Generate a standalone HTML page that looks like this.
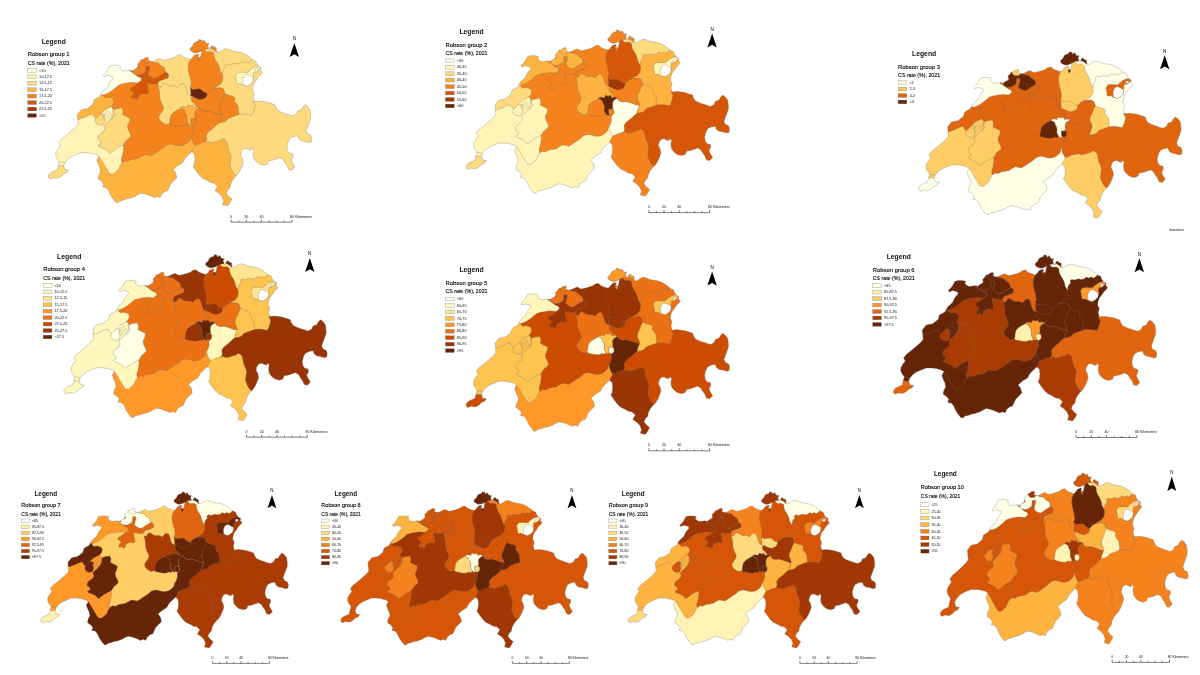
<!DOCTYPE html>
<html><head><meta charset="utf-8"><title>Robson groups CS rate maps</title>
<style>html,body{margin:0;padding:0;background:#fff}svg{display:block;position:absolute;left:0;top:0}text{font-family:"Liberation Sans",Arial,sans-serif}</style></head>
<body><svg width="1200" height="675" viewBox="0 0 1200 675">
<defs><mask id="ch" maskUnits="userSpaceOnUse" x="-20" y="-20" width="320" height="220"><path d="M-0.2,138.4L-0.2,135.9L1.9,133.4L5.0,131.9L8.5,130.7L9.4,126.5L10.6,122.4L8.1,119.0L6.9,116.2L7.2,112.8L9.0,109.7L11.5,106.5L9.8,103.4L12.5,99.9L18.1,95.5L23.1,91.2L26.9,87.8L29.4,84.7L28.5,75.4L32.5,70.4L38.8,69.2L44.4,64.8L45.6,60.4L51.2,57.3L53.8,52.3L58.8,47.9L61.2,42.9L64.4,39.2L63.8,37.3L58.8,36.0L55.6,37.3L54.4,36.0L57.5,32.9L58.8,31.0L61.2,26.7L64.4,26.0L68.8,26.0L71.9,26.7L71.2,29.2L74.4,31.7L77.5,31.7L81.2,31.0L83.8,31.7L85.6,30.4L88.8,28.5L89.4,26.7L88.8,24.8L91.2,22.3L92.5,20.4L95.0,19.8L96.2,18.5L99.4,17.9L100.0,19.8L98.8,21.0L102.5,22.3L105.0,21.7L108.8,19.8L111.2,19.2L114.4,21.0L118.1,20.4L122.5,19.2L126.2,17.9L128.8,16.0L131.9,15.4L133.8,17.3L136.2,18.5L140.0,19.8L140.0,19.8L141.8,20.2L144.0,18.2L144.8,16.7L146.0,15.7L147.5,15.2L148.5,14.7L150.0,15.2L149.2,16.7L149.0,18.2L150.2,17.7L151.5,18.2L152.0,16.7L152.5,14.2L153.0,11.4L151.5,12.4L150.0,12.9L148.5,13.4L146.5,13.7L145.0,13.2L143.5,12.4L142.2,11.7L141.5,10.7L141.2,9.4L142.2,8.2L144.0,6.7L144.8,4.5L146.0,3.3L148.0,2.5L149.8,1.8L150.0,0.3L151.5,0.5L153.0,1.0L153.8,2.8L155.0,1.0L156.1,1.8L156.9,3.5L158.4,4.3L160.1,4.0L159.6,5.5L158.9,6.9L159.9,7.9L159.6,9.7L161.6,9.7L161.9,7.7L163.1,6.4L164.4,6.7L165.1,7.9L166.9,8.2L167.9,9.4L167.4,10.7L168.1,12.4L169.2,13.2L171.2,12.4L173.8,10.7L176.2,9.4L178.8,9.9L181.2,10.7L184.2,11.9L187.4,12.4L191.2,12.9L196.2,14.8L200.0,17.3L202.5,19.2L204.4,21.0L206.9,21.7L208.1,24.8L210.0,27.3L212.5,28.5L211.9,31.0L213.8,32.9L212.5,34.8L210.0,37.3L208.1,40.4L205.6,43.5L204.4,46.7L203.8,50.4L205.6,54.2L204.4,57.9L205.6,62.3L210.0,61.7L215.0,62.3L218.8,62.9L222.5,64.2L226.2,65.4L226.9,67.9L228.8,71.0L232.5,72.9L236.2,74.2L240.0,75.4L243.8,76.7L247.5,74.8L248.8,71.7L252.5,70.4L253.8,67.9L256.2,65.4L258.8,67.3L261.2,70.4L261.9,75.4L261.9,79.4L260.0,84.7L258.8,87.8L257.5,91.5L258.8,94.7L261.9,95.9L263.1,99.0L262.5,102.8L260.0,103.4L256.2,102.2L252.5,101.5L250.0,99.7L248.8,96.5L245.0,97.2L241.2,99.0L239.4,102.2L238.1,107.2L238.8,111.5L240.6,114.0L243.8,114.7L244.4,117.2L242.5,120.9L243.8,124.0L246.2,127.8L243.1,130.9L240.0,130.3L238.1,125.9L236.2,123.4L234.4,120.3L231.2,118.4L227.5,119.7L223.8,120.9L220.0,121.5L218.8,124.7L215.0,125.9L210.6,124.7L207.5,122.2L205.0,119.0L204.4,114.7L205.0,110.3L203.1,109.0L202.5,110.9L200.0,110.3L197.5,109.0L194.4,109.7L192.5,112.8L191.9,115.9L193.8,119.7L194.4,123.4L193.1,127.2L191.2,131.5L188.8,135.3L186.2,137.8L183.8,140.9L181.9,144.7L181.2,148.4L178.8,150.9L177.5,154.0L180.0,157.2L183.1,159.7L181.2,163.4L178.8,166.5L173.8,165.3L175.0,161.5L173.1,157.2L170.0,154.0L166.2,151.5L168.8,147.2L165.6,144.0L161.9,143.4L158.8,141.5L153.8,139.0L150.6,135.9L146.9,130.9L144.4,127.2L145.6,124.7L146.2,119.7L145.6,114.7L143.1,112.4L141.2,114.0L136.2,119.0L133.8,123.4L128.8,126.5L124.4,130.3L126.9,133.4L128.1,138.4L121.9,144.7L118.8,151.5L116.2,152.2L113.1,154.7L111.2,158.4L108.8,157.2L105.6,158.4L103.1,157.2L100.0,155.9L96.2,154.7L92.5,154.0L89.4,155.3L86.2,157.2L81.2,159.0L77.5,159.7L74.4,160.9L71.2,161.5L70.0,162.8L67.5,163.4L64.4,159.7L61.9,155.9L60.0,151.5L57.5,148.4L54.0,147.8L55.0,144.7L53.1,142.2L49.4,139.7L50.0,135.9L51.9,132.2L51.2,128.4L49.4,124.7L48.1,120.9L50.2,116.9L47.5,115.3L42.5,114.0L37.5,113.4L32.5,113.4L27.5,115.3L23.1,117.2L19.4,119.7L16.2,123.4L15.0,126.5L16.2,130.3L20.0,130.9L18.1,133.4L15.0,134.7L12.5,137.2L8.8,139.0L5.0,138.4L1.2,139.7Z" fill="#fff"/></mask><path id="ol" d="M-0.2,138.4L-0.2,135.9L1.9,133.4L5.0,131.9L8.5,130.7L9.4,126.5L10.6,122.4L8.1,119.0L6.9,116.2L7.2,112.8L9.0,109.7L11.5,106.5L9.8,103.4L12.5,99.9L18.1,95.5L23.1,91.2L26.9,87.8L29.4,84.7L28.5,75.4L32.5,70.4L38.8,69.2L44.4,64.8L45.6,60.4L51.2,57.3L53.8,52.3L58.8,47.9L61.2,42.9L64.4,39.2L63.8,37.3L58.8,36.0L55.6,37.3L54.4,36.0L57.5,32.9L58.8,31.0L61.2,26.7L64.4,26.0L68.8,26.0L71.9,26.7L71.2,29.2L74.4,31.7L77.5,31.7L81.2,31.0L83.8,31.7L85.6,30.4L88.8,28.5L89.4,26.7L88.8,24.8L91.2,22.3L92.5,20.4L95.0,19.8L96.2,18.5L99.4,17.9L100.0,19.8L98.8,21.0L102.5,22.3L105.0,21.7L108.8,19.8L111.2,19.2L114.4,21.0L118.1,20.4L122.5,19.2L126.2,17.9L128.8,16.0L131.9,15.4L133.8,17.3L136.2,18.5L140.0,19.8L140.0,19.8L141.8,20.2L144.0,18.2L144.8,16.7L146.0,15.7L147.5,15.2L148.5,14.7L150.0,15.2L149.2,16.7L149.0,18.2L150.2,17.7L151.5,18.2L152.0,16.7L152.5,14.2L153.0,11.4L151.5,12.4L150.0,12.9L148.5,13.4L146.5,13.7L145.0,13.2L143.5,12.4L142.2,11.7L141.5,10.7L141.2,9.4L142.2,8.2L144.0,6.7L144.8,4.5L146.0,3.3L148.0,2.5L149.8,1.8L150.0,0.3L151.5,0.5L153.0,1.0L153.8,2.8L155.0,1.0L156.1,1.8L156.9,3.5L158.4,4.3L160.1,4.0L159.6,5.5L158.9,6.9L159.9,7.9L159.6,9.7L161.6,9.7L161.9,7.7L163.1,6.4L164.4,6.7L165.1,7.9L166.9,8.2L167.9,9.4L167.4,10.7L168.1,12.4L169.2,13.2L171.2,12.4L173.8,10.7L176.2,9.4L178.8,9.9L181.2,10.7L184.2,11.9L187.4,12.4L191.2,12.9L196.2,14.8L200.0,17.3L202.5,19.2L204.4,21.0L206.9,21.7L208.1,24.8L210.0,27.3L212.5,28.5L211.9,31.0L213.8,32.9L212.5,34.8L210.0,37.3L208.1,40.4L205.6,43.5L204.4,46.7L203.8,50.4L205.6,54.2L204.4,57.9L205.6,62.3L210.0,61.7L215.0,62.3L218.8,62.9L222.5,64.2L226.2,65.4L226.9,67.9L228.8,71.0L232.5,72.9L236.2,74.2L240.0,75.4L243.8,76.7L247.5,74.8L248.8,71.7L252.5,70.4L253.8,67.9L256.2,65.4L258.8,67.3L261.2,70.4L261.9,75.4L261.9,79.4L260.0,84.7L258.8,87.8L257.5,91.5L258.8,94.7L261.9,95.9L263.1,99.0L262.5,102.8L260.0,103.4L256.2,102.2L252.5,101.5L250.0,99.7L248.8,96.5L245.0,97.2L241.2,99.0L239.4,102.2L238.1,107.2L238.8,111.5L240.6,114.0L243.8,114.7L244.4,117.2L242.5,120.9L243.8,124.0L246.2,127.8L243.1,130.9L240.0,130.3L238.1,125.9L236.2,123.4L234.4,120.3L231.2,118.4L227.5,119.7L223.8,120.9L220.0,121.5L218.8,124.7L215.0,125.9L210.6,124.7L207.5,122.2L205.0,119.0L204.4,114.7L205.0,110.3L203.1,109.0L202.5,110.9L200.0,110.3L197.5,109.0L194.4,109.7L192.5,112.8L191.9,115.9L193.8,119.7L194.4,123.4L193.1,127.2L191.2,131.5L188.8,135.3L186.2,137.8L183.8,140.9L181.9,144.7L181.2,148.4L178.8,150.9L177.5,154.0L180.0,157.2L183.1,159.7L181.2,163.4L178.8,166.5L173.8,165.3L175.0,161.5L173.1,157.2L170.0,154.0L166.2,151.5L168.8,147.2L165.6,144.0L161.9,143.4L158.8,141.5L153.8,139.0L150.6,135.9L146.9,130.9L144.4,127.2L145.6,124.7L146.2,119.7L145.6,114.7L143.1,112.4L141.2,114.0L136.2,119.0L133.8,123.4L128.8,126.5L124.4,130.3L126.9,133.4L128.1,138.4L121.9,144.7L118.8,151.5L116.2,152.2L113.1,154.7L111.2,158.4L108.8,157.2L105.6,158.4L103.1,157.2L100.0,155.9L96.2,154.7L92.5,154.0L89.4,155.3L86.2,157.2L81.2,159.0L77.5,159.7L74.4,160.9L71.2,161.5L70.0,162.8L67.5,163.4L64.4,159.7L61.9,155.9L60.0,151.5L57.5,148.4L54.0,147.8L55.0,144.7L53.1,142.2L49.4,139.7L50.0,135.9L51.9,132.2L51.2,128.4L49.4,124.7L48.1,120.9L50.2,116.9L47.5,115.3L42.5,114.0L37.5,113.4L32.5,113.4L27.5,115.3L23.1,117.2L19.4,119.7L16.2,123.4L15.0,126.5L16.2,130.3L20.0,130.9L18.1,133.4L15.0,134.7L12.5,137.2L8.8,139.0L5.0,138.4L1.2,139.7Z"/><path id="BE" d="M-13.8,-14.6L276.2,-14.6L276.2,175.4L-13.8,175.4Z"/><path id="GR" d="M165.0,84.2L175.0,80.4L183.8,75.4L196.2,72.9L201.2,72.9L203.8,62.9L206.2,59.2L308.8,59.2L308.8,137.9L191.2,170.9L176.2,133.4L172.5,114.7L166.2,107.2L156.2,105.3L155.0,95.4L158.8,90.4Z"/><path id="VS" d="M73.1,123.4L76.2,121.5L78.8,122.2L82.5,120.3L86.2,119.7L90.0,119.0L92.5,117.2L96.2,115.3L100.0,115.9L102.5,116.5L106.2,114.0L110.0,111.5L113.8,109.0L117.5,105.9L121.2,104.7L125.0,105.3L128.8,106.5L132.5,106.5L136.2,105.3L138.8,103.4L141.2,100.9L141.9,97.2L150.0,95.9L150.0,120.9L150.0,170.9L43.8,170.9L43.8,117.2L50.2,116.2Z"/><path id="VD" d="M50.2,116.9L51.9,119.7L53.8,122.8L55.6,125.9L57.5,129.0L59.4,132.2L61.2,134.7L64.4,134.7L67.5,132.2L70.0,129.7L71.2,126.5L73.1,123.4L72.5,119.7L73.8,115.9L74.4,112.2L75.0,108.4L74.4,105.9L71.2,95.4L68.8,82.9L65.0,70.4L62.5,67.3L56.2,64.2L43.8,57.9L18.8,70.4L2.5,95.9L2.5,124.7L10.0,130.9L17.5,128.4L21.2,125.9L33.8,119.7L46.2,117.8Z"/><path id="FR" d="M65.0,70.4L68.8,69.2L73.1,68.5L74.4,71.7L73.8,75.4L77.5,77.3L81.2,79.2L80.6,82.9L78.8,86.7L79.4,90.4L81.2,93.5L82.2,96.7L80.0,99.2L77.5,101.0L75.6,104.2L74.4,105.9L71.2,107.3L67.5,109.2L64.4,111.7L60.9,114.2L58.8,111.7L56.2,109.8L53.1,108.5L50.6,107.9L49.4,106.0L52.5,104.2L51.2,101.7L48.8,99.8L49.4,96.7L51.2,94.8L54.4,92.9L56.2,89.8L55.0,87.3L56.2,84.8L58.8,82.9L61.2,80.4L63.1,77.9L64.4,74.8ZM47.5,78.2L49.4,76.0L53.1,74.4L56.0,75.2L55.2,78.2L55.8,82.2L54.6,85.5L51.4,86.2L48.0,84.9L46.2,81.5Z"/><path id="NE" d="M53.8,54.8L54.4,56.7L56.2,58.5L60.0,57.9L63.8,59.2L65.2,61.7L64.4,64.8L62.5,67.3L60.0,68.5L56.2,70.4L53.1,73.5L50.0,76.7L47.5,79.2L45.0,77.3L43.8,74.8L40.0,76.0L36.2,77.9L32.5,79.2L29.4,80.4L25.0,80.4L25.0,70.4L43.8,55.4L53.1,52.3Z"/><path id="JU" d="M81.0,31.4L83.1,32.8L86.2,35.2L89.4,37.3L92.5,38.5L92.8,41.0L89.4,43.5L83.8,42.9L78.8,43.5L73.8,44.4L70.0,45.7L67.5,47.9L64.4,50.4L61.2,52.7L58.1,54.4L54.4,55.7L50.0,54.2L50.0,22.9L81.0,22.9Z"/><path id="SO" d="M86.5,35.2L89.4,35.7L91.9,35.4L95.0,33.8L96.9,32.3L97.2,27.9L97.8,26.7L100.6,26.7L101.0,29.2L100.0,32.3L99.4,35.4L101.2,37.3L103.8,38.5L106.2,39.2L108.8,37.9L111.2,36.0L114.4,34.2L116.9,32.9L119.4,34.2L120.0,36.0L119.4,38.5L116.2,39.8L113.1,41.0L110.6,41.7L109.4,43.5L107.5,44.8L103.8,44.8L100.6,44.2L98.1,43.5L98.8,46.7L99.4,50.4L100.0,53.5L98.1,54.8L95.0,54.2L92.5,54.8L90.0,56.7L89.4,59.2L87.5,60.4L85.6,58.5L83.8,59.8L82.5,57.9L83.8,55.4L85.6,54.2L83.8,52.3L81.2,50.4L82.5,48.5L85.0,47.3L87.5,45.4L90.0,43.5L92.5,42.3L92.8,40.4L92.5,38.5L89.4,37.3Z"/><path id="BL" d="M81.0,31.4L81.0,26.7L88.8,20.4L92.5,16.7L102.5,16.7L103.1,22.3L106.2,23.2L109.4,23.5L111.0,25.4L113.8,27.3L116.0,28.9L116.9,32.7L114.4,34.2L111.2,36.0L108.8,37.9L106.2,39.2L103.8,38.5L101.2,37.3L99.4,35.4L100.0,32.3L101.0,29.2L100.6,26.7L97.8,26.7L97.2,27.9L96.9,32.3L95.0,33.8L91.9,35.4L89.4,35.7L86.5,35.2L83.1,32.8Z"/><path id="BS" d="M92.8,20.4L92.8,16.7L102.2,16.7L102.2,22.2L100.6,22.4L100.0,23.9L96.2,24.2L93.8,22.9Z"/><path id="SOx" d="M82.8,31.0L84.8,30.8L85.0,32.4L83.2,32.7ZM86.2,26.9L89.4,26.2L90.2,28.2L88.1,29.4L86.5,28.9Z"/><path id="AG" d="M103.1,22.3L103.1,14.2L133.8,11.7L141.2,14.2L141.2,16.7L145.0,21.7L145.0,47.9L145.0,54.2L141.2,60.4L123.8,54.2L111.2,49.2L109.4,47.7L109.4,43.5L110.6,41.7L113.1,41.0L116.2,39.8L119.4,38.5L120.0,36.0L119.4,34.2L116.9,32.7L116.0,28.9L113.8,27.3L111.0,25.4L109.4,23.5L106.2,23.2Z"/><path id="LU" d="M109.4,47.7L111.9,47.5L114.4,43.9L115.8,43.8L118.9,45.8L120.9,46.8L125.9,46.8L128.9,48.3L130.6,46.0L132.9,44.3L135.6,45.0L137.0,48.8L138.0,52.3L139.0,54.9L140.5,56.4L142.0,56.9L145.0,56.7L151.2,62.9L153.8,69.2L142.5,72.9L130.0,79.2L123.8,81.7L120.6,84.4L116.9,85.2L113.1,82.9L110.6,80.4L110.0,77.3L111.9,74.2L113.8,71.7L114.8,68.5L113.5,65.4L112.1,62.3L111.2,59.2L111.0,55.4L110.6,51.7Z"/><path id="ZH" d="M141.8,20.2L140.6,22.3L139.4,25.4L139.4,30.4L140.6,35.4L141.9,40.4L142.5,45.4L141.2,47.9L146.2,52.9L161.2,54.2L176.2,50.4L178.8,37.9L175.0,26.7L170.0,16.7L168.8,11.7L163.8,7.9L157.5,6.7L151.2,10.4L141.2,15.4Z"/><path id="SG" d="M173.8,35.7L174.2,39.2L173.1,42.9L170.6,46.0L166.9,47.9L165.0,49.2L171.2,48.5L174.4,49.8L176.2,54.2L181.2,65.4L186.2,75.4L190.2,75.2L195.0,74.8L198.8,75.2L203.1,76.0L204.6,72.9L205.9,69.2L206.5,65.7L204.4,62.3L216.2,57.9L216.2,19.8L203.8,18.8L202.5,20.7L200.0,22.5L197.5,21.3L195.0,22.5L192.5,21.3L190.6,23.2L187.5,23.8L184.4,23.2L181.2,24.4L178.1,23.8L175.2,25.4L175.8,28.2L174.0,30.4L173.1,32.9Z"/><path id="TG" d="M173.8,35.7L171.4,31.7L170.8,28.4L169.1,24.4L166.8,21.0L165.5,17.7L165.1,14.2L163.8,12.9L161.8,12.4L158.5,12.7L156.5,11.0L156.2,9.7L156.2,6.7L168.8,5.4L191.2,7.9L206.2,17.9L203.8,19.8L202.5,21.7L200.0,23.5L197.5,22.3L195.0,23.5L192.5,22.3L190.6,24.2L187.5,24.8L184.4,24.2L181.2,25.4L178.1,24.8L176.2,26.0L176.9,28.5L175.0,30.4L174.0,32.9Z"/><path id="SH" d="M153.0,11.4L151.5,12.4L150.0,12.9L148.5,13.4L146.5,13.7L145.0,13.2L143.5,12.4L142.2,11.7L141.5,10.7L141.2,9.4L142.2,8.2L144.0,6.7L144.8,4.5L146.0,3.3L148.0,2.5L149.8,1.8L150.0,0.3L151.5,0.5L153.0,1.0L153.8,2.8L155.0,1.0L156.1,1.8L156.9,3.5L158.4,4.3L160.1,4.0L159.6,5.5L158.9,6.9L159.9,7.9L159.6,9.7L156.2,9.7L154.8,10.7ZM161.6,9.7L161.9,7.7L163.1,6.4L164.4,6.7L165.1,7.9L166.9,8.2L167.9,9.4L167.4,10.7L168.1,12.4L167.4,12.9L166.4,11.7L165.1,10.7L163.9,10.2L162.9,9.2ZM149.0,18.2L150.2,17.7L151.5,18.2L151.2,20.2L150.2,21.7L149.2,20.4Z"/><path id="AR" d="M189.1,33.2L192.9,33.0L197.0,33.2L199.4,32.9L200.4,31.2L202.4,30.2L203.8,28.8L206.2,27.7L209.4,27.0L211.2,28.2L212.0,29.2L210.9,30.4L208.5,32.5L206.5,33.2L205.1,32.9L204.8,34.5L204.6,37.9L204.5,40.3L203.8,43.0L201.4,45.2L198.6,46.8L196.2,46.3L194.2,45.8L191.5,44.3L189.1,44.7L187.6,43.4L188.2,41.7L187.2,40.3L187.6,38.7L186.6,36.9L188.2,34.2Z"/><path id="AI" d="M193.9,40.3L195.2,37.3L197.0,35.3L199.8,35.5L202.4,37.2L204.6,37.9L204.5,40.3L203.8,43.0L201.4,45.2L198.6,46.8L196.2,46.3L194.2,44.8ZM206.5,30.0L208.4,29.2L209.8,30.0L208.9,31.9L206.9,32.2Z"/><path id="TI" d="M143.1,112.4L143.8,110.9L145.0,108.4L146.2,106.0L147.5,102.2L155.6,99.7L155.6,102.9L158.8,102.2L162.5,103.4L165.6,102.8L168.8,101.5L171.9,100.9L173.8,99.0L176.2,100.3L178.1,102.2L178.8,105.9L179.4,109.7L181.2,113.4L182.5,117.2L181.9,120.9L181.2,125.9L182.5,129.7L184.4,133.4L186.9,136.5L191.2,139.7L191.2,170.9L135.0,170.9L138.8,124.7Z"/><path id="UR" d="M142.5,97.3L144.0,94.2L145.0,90.4L144.8,87.3L146.0,85.4L147.5,83.5L147.2,80.2L146.2,78.5L146.0,75.4L146.0,72.9L147.5,70.4L151.2,68.2L152.5,71.0L156.2,72.3L160.0,71.7L163.8,72.9L167.5,74.2L170.0,75.2L173.1,75.4L172.5,77.3L171.2,80.4L170.6,83.5L168.1,85.4L165.6,87.9L162.5,90.4L159.4,92.9L157.5,96.0L158.1,99.2L157.5,101.7L155.6,102.9L152.5,103.5L148.8,105.4L146.2,106.0L144.4,103.5L143.1,100.4Z"/><path id="GL" d="M176.2,54.2L180.0,56.0L183.8,56.7L186.2,58.5L185.6,61.7L187.5,64.2L189.4,66.7L190.0,71.7L190.2,75.2L186.2,76.7L182.5,77.9L179.4,79.2L177.5,81.7L174.4,82.9L170.6,83.5L171.2,80.4L172.5,77.3L173.1,75.4L171.2,71.7L170.0,64.2L172.5,55.4Z"/><path id="SZ" d="M142.2,58.9L148.8,54.2L158.6,54.2L161.2,51.0L165.0,49.2L171.2,48.5L174.4,49.8L176.2,54.2L174.4,57.9L173.1,61.7L171.2,65.4L170.6,69.2L172.5,72.3L173.1,75.4L170.0,75.2L167.5,74.2L163.8,72.9L160.0,71.7L156.2,72.3L152.5,71.0L151.2,68.2L147.8,67.4L146.2,65.4L145.0,63.5L143.1,62.3Z"/><path id="ZG" d="M141.5,48.8L144.0,50.2L147.0,49.9L150.0,49.5L152.6,50.3L154.6,52.5L158.1,54.0L158.6,55.3L157.1,58.3L154.1,59.8L151.1,60.3L148.0,59.3L146.0,58.3L144.0,57.3L142.0,56.7L142.0,52.8Z"/><path id="OW" d="M131.9,68.9L133.1,69.4L135.6,70.7L136.2,72.9L137.5,75.2L138.0,77.9L137.8,81.0L139.4,84.4L138.8,86.2L135.6,85.7L132.5,86.9L128.8,86.7L125.0,86.0L122.5,85.4L120.6,84.4L121.2,81.7L121.5,78.5L122.5,75.4L125.0,72.9L128.1,71.0ZM142.2,79.4L145.0,79.2L147.2,80.2L147.5,83.5L146.0,85.4L143.8,85.7L142.1,83.5Z"/><path id="NW" d="M131.9,68.2L135.0,67.3L137.5,68.2L139.4,65.4L141.9,66.7L143.8,65.4L145.6,68.2L147.8,67.4L151.2,68.2L147.5,70.4L146.0,72.9L146.0,75.4L146.2,78.5L145.0,79.2L142.2,79.4L142.1,83.5L143.1,85.4L141.2,85.9L139.4,84.4L137.8,81.0L138.0,77.9L137.5,75.2L136.2,72.9L135.6,70.7L133.1,69.4Z"/><path id="GE" d="M9.4,126.5L15.0,126.5L21.2,126.5L21.2,142.2L-2.5,142.2L-2.5,130.9L7.5,125.9Z"/><path id="ln" fill="none" d="M58.1,70.9L63.2,76.9M56.4,72.7L61.5,78.8M54.6,74.4L59.4,80.0M53.4,75.7L57.6,81.5M63.8,70.4L64.2,72.9L66.2,75.2L62.8,80.5M10.2,122.4L16.0,123.7"/></defs>
<g transform="translate(48.75,39.25) scale(1.0,1.0)">
<g mask="url(#ch)" stroke="#6e6e6e" stroke-width="0.32" stroke-linejoin="round">
<use href="#BE" fill="#f4821d"/>
<use href="#GR" fill="#feda7e"/>
<use href="#VS" fill="#feb23f"/>
<use href="#VD" fill="#fff4b6"/>
<use href="#FR" fill="#feda7e"/>
<use href="#NE" fill="#feb23f"/>
<use href="#JU" fill="#ffffe5"/>
<use href="#SO" fill="#d55607"/>
<use href="#BL" fill="#f4821d"/>
<use href="#BS" fill="#f4821d"/>
<use href="#SOx" fill="#d55607"/>
<use href="#AG" fill="#feda7e"/>
<use href="#LU" fill="#feda7e"/>
<use href="#ZH" fill="#f4821d"/>
<use href="#SG" fill="#feda7e"/>
<use href="#TG" fill="#feda7e"/>
<use href="#SH" fill="#f4821d"/>
<use href="#AR" fill="#fff4b6"/>
<use href="#AI" fill="#ffffff"/>
<use href="#TI" fill="#feb23f"/>
<use href="#UR" fill="#f4821d"/>
<use href="#GL" fill="#f4821d"/>
<use href="#SZ" fill="#f4821d"/>
<use href="#ZG" fill="#662506"/>
<use href="#OW" fill="#f4821d"/>
<use href="#NW" fill="#feb23f"/>
<use href="#GE" fill="#feda7e"/>
<use href="#ln"/>
</g>
<use href="#ol" fill="none" stroke="#6e6e6e" stroke-width="0.32"/>
<path d="M245.6,3.7L250.3,17.7L245.6,15L240.9,17.7Z" fill="#000"/>
<text x="245.6" y="1.0" font-size="4.7" text-anchor="middle" fill="#000">N</text>
<path d="M182.3,180.3V182.9H243.10000000000002V180.3M189.90,182.9v-1.5M197.50,182.9v-2.6M205.10,182.9v-1.5M212.70,182.9v-2.6M220.30,182.9v-1.5M227.90,182.9v-1.5M235.50,182.9v-1.5" fill="none" stroke="#000" stroke-width="0.5"/>
<text x="182.30" y="178.3" font-size="3.6" text-anchor="middle" fill="#111">0</text>
<text x="197.50" y="178.3" font-size="3.6" text-anchor="middle" fill="#111">20</text>
<text x="212.70" y="178.3" font-size="3.6" text-anchor="middle" fill="#111">40</text>
<text x="241.3" y="178.3" font-size="3.6" fill="#111">80 Kilometers</text>
<text x="5.00" y="4.4" font-size="7.4" font-weight="bold" text-anchor="middle" textLength="24.2" lengthAdjust="spacingAndGlyphs" fill="#111">Legend</text>
<text x="-21.00" y="17.0" font-size="6" textLength="41.8" lengthAdjust="spacingAndGlyphs" fill="#000" stroke="#000" stroke-width="0.12">Robson group 1</text>
<text x="-21.00" y="25.6" font-size="6" textLength="42" lengthAdjust="spacingAndGlyphs" fill="#000" stroke="#000" stroke-width="0.12">CS rate (%), 2021</text>
<rect x="-21.00" y="29.25" width="8.7" height="3.7" fill="#ffffe5" stroke="#6e6e6e" stroke-width="0.3"/>
<text x="-9.70" y="32.30" font-size="3.8" fill="#111"><10</text>
<rect x="-21.00" y="35.70" width="8.7" height="3.7" fill="#fff4b6" stroke="#6e6e6e" stroke-width="0.3"/>
<text x="-9.70" y="38.75" font-size="3.8" fill="#111">10-12.5</text>
<rect x="-21.00" y="42.15" width="8.7" height="3.7" fill="#feda7e" stroke="#6e6e6e" stroke-width="0.3"/>
<text x="-9.70" y="45.20" font-size="3.8" fill="#111">12.5-15</text>
<rect x="-21.00" y="48.60" width="8.7" height="3.7" fill="#feb23f" stroke="#6e6e6e" stroke-width="0.3"/>
<text x="-9.70" y="51.65" font-size="3.8" fill="#111">15-17.5</text>
<rect x="-21.00" y="55.05" width="8.7" height="3.7" fill="#f4821d" stroke="#6e6e6e" stroke-width="0.3"/>
<text x="-9.70" y="58.10" font-size="3.8" fill="#111">17.5-20</text>
<rect x="-21.00" y="61.50" width="8.7" height="3.7" fill="#d55607" stroke="#6e6e6e" stroke-width="0.3"/>
<text x="-9.70" y="64.55" font-size="3.8" fill="#111">20-22.5</text>
<rect x="-21.00" y="67.95" width="8.7" height="3.7" fill="#a03704" stroke="#6e6e6e" stroke-width="0.3"/>
<text x="-9.70" y="71.00" font-size="3.8" fill="#111">22.5-25</text>
<rect x="-21.00" y="74.40" width="8.7" height="3.7" fill="#662506" stroke="#6e6e6e" stroke-width="0.3"/>
<text x="-9.70" y="77.45" font-size="3.8" fill="#111">>25</text>
</g>
<g transform="translate(466.5,29.7) scale(1.0,1.0)">
<g mask="url(#ch)" stroke="#6e6e6e" stroke-width="0.32" stroke-linejoin="round">
<use href="#BE" fill="#f4821d"/>
<use href="#GR" fill="#d55607"/>
<use href="#VS" fill="#fff4b6"/>
<use href="#VD" fill="#fff4b6"/>
<use href="#FR" fill="#fff4b6"/>
<use href="#NE" fill="#feda7e"/>
<use href="#JU" fill="#feb23f"/>
<use href="#SO" fill="#f4821d"/>
<use href="#BL" fill="#feb23f"/>
<use href="#BS" fill="#feb23f"/>
<use href="#SOx" fill="#f4821d"/>
<use href="#AG" fill="#f4821d"/>
<use href="#LU" fill="#feb23f"/>
<use href="#ZH" fill="#d55607"/>
<use href="#SG" fill="#feb23f"/>
<use href="#TG" fill="#feda7e"/>
<use href="#SH" fill="#f4821d"/>
<use href="#AR" fill="#fff4b6"/>
<use href="#AI" fill="#ffffff"/>
<use href="#TI" fill="#f4821d"/>
<use href="#UR" fill="#ffffe5"/>
<use href="#GL" fill="#feb23f"/>
<use href="#SZ" fill="#f4821d"/>
<use href="#ZG" fill="#a03704"/>
<use href="#OW" fill="#f4821d"/>
<use href="#NW" fill="#662506"/>
<use href="#GE" fill="#feda7e"/>
<use href="#ln"/>
</g>
<use href="#ol" fill="none" stroke="#6e6e6e" stroke-width="0.32"/>
<path d="M245.6,3.7L250.3,17.7L245.6,15L240.9,17.7Z" fill="#000"/>
<text x="245.6" y="1.0" font-size="4.7" text-anchor="middle" fill="#000">N</text>
<path d="M182.3,180.3V182.9H243.10000000000002V180.3M189.90,182.9v-1.5M197.50,182.9v-2.6M205.10,182.9v-1.5M212.70,182.9v-2.6M220.30,182.9v-1.5M227.90,182.9v-1.5M235.50,182.9v-1.5" fill="none" stroke="#000" stroke-width="0.5"/>
<text x="182.30" y="178.3" font-size="3.6" text-anchor="middle" fill="#111">0</text>
<text x="197.50" y="178.3" font-size="3.6" text-anchor="middle" fill="#111">20</text>
<text x="212.70" y="178.3" font-size="3.6" text-anchor="middle" fill="#111">40</text>
<text x="241.3" y="178.3" font-size="3.6" fill="#111">80 Kilometers</text>
<text x="5.00" y="4.4" font-size="7.4" font-weight="bold" text-anchor="middle" textLength="24.2" lengthAdjust="spacingAndGlyphs" fill="#111">Legend</text>
<text x="-21.00" y="17.0" font-size="6" textLength="41.8" lengthAdjust="spacingAndGlyphs" fill="#000" stroke="#000" stroke-width="0.12">Robson group 2</text>
<text x="-21.00" y="25.6" font-size="6" textLength="42" lengthAdjust="spacingAndGlyphs" fill="#000" stroke="#000" stroke-width="0.12">CS rate (%), 2021</text>
<rect x="-21.00" y="29.25" width="8.7" height="3.7" fill="#ffffe5" stroke="#6e6e6e" stroke-width="0.3"/>
<text x="-9.70" y="32.30" font-size="3.8" fill="#111"><30</text>
<rect x="-21.00" y="35.70" width="8.7" height="3.7" fill="#fff4b6" stroke="#6e6e6e" stroke-width="0.3"/>
<text x="-9.70" y="38.75" font-size="3.8" fill="#111">30-35</text>
<rect x="-21.00" y="42.15" width="8.7" height="3.7" fill="#feda7e" stroke="#6e6e6e" stroke-width="0.3"/>
<text x="-9.70" y="45.20" font-size="3.8" fill="#111">35-40</text>
<rect x="-21.00" y="48.60" width="8.7" height="3.7" fill="#feb23f" stroke="#6e6e6e" stroke-width="0.3"/>
<text x="-9.70" y="51.65" font-size="3.8" fill="#111">40-45</text>
<rect x="-21.00" y="55.05" width="8.7" height="3.7" fill="#f4821d" stroke="#6e6e6e" stroke-width="0.3"/>
<text x="-9.70" y="58.10" font-size="3.8" fill="#111">45-50</text>
<rect x="-21.00" y="61.50" width="8.7" height="3.7" fill="#d55607" stroke="#6e6e6e" stroke-width="0.3"/>
<text x="-9.70" y="64.55" font-size="3.8" fill="#111">50-55</text>
<rect x="-21.00" y="67.95" width="8.7" height="3.7" fill="#a03704" stroke="#6e6e6e" stroke-width="0.3"/>
<text x="-9.70" y="71.00" font-size="3.8" fill="#111">55-60</text>
<rect x="-21.00" y="74.40" width="8.7" height="3.7" fill="#662506" stroke="#6e6e6e" stroke-width="0.3"/>
<text x="-9.70" y="77.45" font-size="3.8" fill="#111">>60</text>
</g>
<g transform="translate(919.1,51.5) scale(1.0,1.0)">
<g mask="url(#ch)" stroke="#6e6e6e" stroke-width="0.32" stroke-linejoin="round">
<use href="#BE" fill="#e1640e"/>
<use href="#GR" fill="#e1640e"/>
<use href="#VS" fill="#ffffe5"/>
<use href="#VD" fill="#fece65"/>
<use href="#FR" fill="#fece65"/>
<use href="#NE" fill="#e1640e"/>
<use href="#JU" fill="#ffffe5"/>
<use href="#SO" fill="#e1640e"/>
<use href="#BL" fill="#662506"/>
<use href="#BS" fill="#fece65"/>
<use href="#SOx" fill="#e1640e"/>
<use href="#AG" fill="#e1640e"/>
<use href="#LU" fill="#e1640e"/>
<use href="#ZH" fill="#fece65"/>
<use href="#SG" fill="#ffffe5"/>
<use href="#TG" fill="#ffffe5"/>
<use href="#SH" fill="#662506"/>
<use href="#AR" fill="#e1640e"/>
<use href="#AI" fill="#ffffff"/>
<use href="#TI" fill="#fece65"/>
<use href="#UR" fill="#e1640e"/>
<use href="#GL" fill="#fece65"/>
<use href="#SZ" fill="#e1640e"/>
<use href="#ZG" fill="#fece65"/>
<use href="#OW" fill="#662506"/>
<use href="#NW" fill="#ffffe5"/>
<use href="#GE" fill="#ffffe5"/>
<use href="#ln"/>
</g>
<use href="#ol" fill="none" stroke="#6e6e6e" stroke-width="0.32"/>
<path d="M245.6,3.7L250.3,17.7L245.6,15L240.9,17.7Z" fill="#000"/>
<text x="245.6" y="1.0" font-size="4.7" text-anchor="middle" fill="#000">N</text>
<text x="250.3" y="179.2" font-size="3.6" fill="#111">ilometers</text>
<text x="5.00" y="4.4" font-size="7.4" font-weight="bold" text-anchor="middle" textLength="24.2" lengthAdjust="spacingAndGlyphs" fill="#111">Legend</text>
<text x="-21.00" y="17.0" font-size="6" textLength="41.8" lengthAdjust="spacingAndGlyphs" fill="#000" stroke="#000" stroke-width="0.12">Robson group 3</text>
<text x="-21.00" y="25.6" font-size="6" textLength="42" lengthAdjust="spacingAndGlyphs" fill="#000" stroke="#000" stroke-width="0.12">CS rate (%), 2021</text>
<rect x="-21.00" y="29.25" width="8.7" height="3.7" fill="#ffffe5" stroke="#6e6e6e" stroke-width="0.3"/>
<text x="-9.70" y="32.30" font-size="3.8" fill="#111"><2</text>
<rect x="-21.00" y="35.70" width="8.7" height="3.7" fill="#fece65" stroke="#6e6e6e" stroke-width="0.3"/>
<text x="-9.70" y="38.75" font-size="3.8" fill="#111">2-3</text>
<rect x="-21.00" y="42.15" width="8.7" height="3.7" fill="#e1640e" stroke="#6e6e6e" stroke-width="0.3"/>
<text x="-9.70" y="45.20" font-size="3.8" fill="#111">3-4</text>
<rect x="-21.00" y="48.60" width="8.7" height="3.7" fill="#662506" stroke="#6e6e6e" stroke-width="0.3"/>
<text x="-9.70" y="51.65" font-size="3.8" fill="#111">>4</text>
</g>
<g transform="translate(64.2,254.3) scale(1.0,1.0)">
<g mask="url(#ch)" stroke="#6e6e6e" stroke-width="0.32" stroke-linejoin="round">
<use href="#BE" fill="#ec7014"/>
<use href="#GR" fill="#993404"/>
<use href="#VS" fill="#fe9929"/>
<use href="#VD" fill="#fff7bc"/>
<use href="#FR" fill="#ffffe5"/>
<use href="#NE" fill="#fff7bc"/>
<use href="#JU" fill="#fff7bc"/>
<use href="#SO" fill="#ec7014"/>
<use href="#BL" fill="#ec7014"/>
<use href="#BS" fill="#ec7014"/>
<use href="#SOx" fill="#ec7014"/>
<use href="#AG" fill="#993404"/>
<use href="#LU" fill="#ec7014"/>
<use href="#ZH" fill="#cc4c02"/>
<use href="#SG" fill="#fec44f"/>
<use href="#TG" fill="#fee391"/>
<use href="#SH" fill="#662506"/>
<use href="#AR" fill="#fee391"/>
<use href="#AI" fill="#ffffff"/>
<use href="#TI" fill="#fec44f"/>
<use href="#UR" fill="#fff7bc"/>
<use href="#GL" fill="#fec44f"/>
<use href="#SZ" fill="#ec7014"/>
<use href="#ZG" fill="#993404"/>
<use href="#OW" fill="#993404"/>
<use href="#NW" fill="#662506"/>
<use href="#GE" fill="#fff7bc"/>
<use href="#ln"/>
</g>
<use href="#ol" fill="none" stroke="#6e6e6e" stroke-width="0.32"/>
<path d="M245.6,3.7L250.3,17.7L245.6,15L240.9,17.7Z" fill="#000"/>
<text x="245.6" y="1.0" font-size="4.7" text-anchor="middle" fill="#000">N</text>
<path d="M182.3,180.3V182.9H243.10000000000002V180.3M189.90,182.9v-1.5M197.50,182.9v-2.6M205.10,182.9v-1.5M212.70,182.9v-2.6M220.30,182.9v-1.5M227.90,182.9v-1.5M235.50,182.9v-1.5" fill="none" stroke="#000" stroke-width="0.5"/>
<text x="182.30" y="178.3" font-size="3.6" text-anchor="middle" fill="#111">0</text>
<text x="197.50" y="178.3" font-size="3.6" text-anchor="middle" fill="#111">20</text>
<text x="212.70" y="178.3" font-size="3.6" text-anchor="middle" fill="#111">40</text>
<text x="241.3" y="178.3" font-size="3.6" fill="#111">80 Kilometers</text>
<text x="5.00" y="4.4" font-size="7.4" font-weight="bold" text-anchor="middle" textLength="24.2" lengthAdjust="spacingAndGlyphs" fill="#111">Legend</text>
<text x="-21.00" y="17.0" font-size="6" textLength="41.8" lengthAdjust="spacingAndGlyphs" fill="#000" stroke="#000" stroke-width="0.12">Robson group 4</text>
<text x="-21.00" y="25.6" font-size="6" textLength="42" lengthAdjust="spacingAndGlyphs" fill="#000" stroke="#000" stroke-width="0.12">CS rate (%), 2021</text>
<rect x="-21.00" y="29.25" width="8.7" height="3.7" fill="#ffffe5" stroke="#6e6e6e" stroke-width="0.3"/>
<text x="-9.70" y="32.30" font-size="3.8" fill="#111"><10</text>
<rect x="-21.00" y="35.70" width="8.7" height="3.7" fill="#fff7bc" stroke="#6e6e6e" stroke-width="0.3"/>
<text x="-9.70" y="38.75" font-size="3.8" fill="#111">10-12.5</text>
<rect x="-21.00" y="42.15" width="8.7" height="3.7" fill="#fee391" stroke="#6e6e6e" stroke-width="0.3"/>
<text x="-9.70" y="45.20" font-size="3.8" fill="#111">12.5-15</text>
<rect x="-21.00" y="48.60" width="8.7" height="3.7" fill="#fec44f" stroke="#6e6e6e" stroke-width="0.3"/>
<text x="-9.70" y="51.65" font-size="3.8" fill="#111">15-17.5</text>
<rect x="-21.00" y="55.05" width="8.7" height="3.7" fill="#fe9929" stroke="#6e6e6e" stroke-width="0.3"/>
<text x="-9.70" y="58.10" font-size="3.8" fill="#111">17.5-20</text>
<rect x="-21.00" y="61.50" width="8.7" height="3.7" fill="#ec7014" stroke="#6e6e6e" stroke-width="0.3"/>
<text x="-9.70" y="64.55" font-size="3.8" fill="#111">20-22.5</text>
<rect x="-21.00" y="67.95" width="8.7" height="3.7" fill="#cc4c02" stroke="#6e6e6e" stroke-width="0.3"/>
<text x="-9.70" y="71.00" font-size="3.8" fill="#111">22.5-25</text>
<rect x="-21.00" y="74.40" width="8.7" height="3.7" fill="#993404" stroke="#6e6e6e" stroke-width="0.3"/>
<text x="-9.70" y="77.45" font-size="3.8" fill="#111">25-27.5</text>
<rect x="-21.00" y="80.85" width="8.7" height="3.7" fill="#662506" stroke="#6e6e6e" stroke-width="0.3"/>
<text x="-9.70" y="83.90" font-size="3.8" fill="#111">>27.5</text>
</g>
<g transform="translate(466.5,267.9) scale(1.0,1.0)">
<g mask="url(#ch)" stroke="#6e6e6e" stroke-width="0.32" stroke-linejoin="round">
<use href="#BE" fill="#cc4c02"/>
<use href="#GR" fill="#cc4c02"/>
<use href="#VS" fill="#fe9929"/>
<use href="#VD" fill="#fec44f"/>
<use href="#FR" fill="#fec44f"/>
<use href="#NE" fill="#fec44f"/>
<use href="#JU" fill="#fff7bc"/>
<use href="#SO" fill="#993404"/>
<use href="#BL" fill="#ec7014"/>
<use href="#BS" fill="#ec7014"/>
<use href="#SOx" fill="#993404"/>
<use href="#AG" fill="#993404"/>
<use href="#LU" fill="#ec7014"/>
<use href="#ZH" fill="#993404"/>
<use href="#SG" fill="#ec7014"/>
<use href="#TG" fill="#ec7014"/>
<use href="#SH" fill="#fe9929"/>
<use href="#AR" fill="#fec44f"/>
<use href="#AI" fill="#ffffff"/>
<use href="#TI" fill="#993404"/>
<use href="#UR" fill="#662506"/>
<use href="#GL" fill="#fec44f"/>
<use href="#SZ" fill="#cc4c02"/>
<use href="#ZG" fill="#993404"/>
<use href="#OW" fill="#ffffe5"/>
<use href="#NW" fill="#fec44f"/>
<use href="#GE" fill="#cc4c02"/>
<use href="#ln"/>
</g>
<use href="#ol" fill="none" stroke="#6e6e6e" stroke-width="0.32"/>
<path d="M245.6,3.7L250.3,17.7L245.6,15L240.9,17.7Z" fill="#000"/>
<text x="245.6" y="1.0" font-size="4.7" text-anchor="middle" fill="#000">N</text>
<path d="M182.3,180.3V182.9H243.10000000000002V180.3M189.90,182.9v-1.5M197.50,182.9v-2.6M205.10,182.9v-1.5M212.70,182.9v-2.6M220.30,182.9v-1.5M227.90,182.9v-1.5M235.50,182.9v-1.5" fill="none" stroke="#000" stroke-width="0.5"/>
<text x="182.30" y="178.3" font-size="3.6" text-anchor="middle" fill="#111">0</text>
<text x="197.50" y="178.3" font-size="3.6" text-anchor="middle" fill="#111">20</text>
<text x="212.70" y="178.3" font-size="3.6" text-anchor="middle" fill="#111">40</text>
<text x="241.3" y="178.3" font-size="3.6" fill="#111">80 Kilometers</text>
<text x="5.00" y="4.4" font-size="7.4" font-weight="bold" text-anchor="middle" textLength="24.2" lengthAdjust="spacingAndGlyphs" fill="#111">Legend</text>
<text x="-21.00" y="17.0" font-size="6" textLength="41.8" lengthAdjust="spacingAndGlyphs" fill="#000" stroke="#000" stroke-width="0.12">Robson group 5</text>
<text x="-21.00" y="25.6" font-size="6" textLength="42" lengthAdjust="spacingAndGlyphs" fill="#000" stroke="#000" stroke-width="0.12">CS rate (%), 2021</text>
<rect x="-21.00" y="29.25" width="8.7" height="3.7" fill="#ffffe5" stroke="#6e6e6e" stroke-width="0.3"/>
<text x="-9.70" y="32.30" font-size="3.8" fill="#111"><60</text>
<rect x="-21.00" y="35.70" width="8.7" height="3.7" fill="#fff7bc" stroke="#6e6e6e" stroke-width="0.3"/>
<text x="-9.70" y="38.75" font-size="3.8" fill="#111">60-65</text>
<rect x="-21.00" y="42.15" width="8.7" height="3.7" fill="#fee391" stroke="#6e6e6e" stroke-width="0.3"/>
<text x="-9.70" y="45.20" font-size="3.8" fill="#111">65-70</text>
<rect x="-21.00" y="48.60" width="8.7" height="3.7" fill="#fec44f" stroke="#6e6e6e" stroke-width="0.3"/>
<text x="-9.70" y="51.65" font-size="3.8" fill="#111">70-75</text>
<rect x="-21.00" y="55.05" width="8.7" height="3.7" fill="#fe9929" stroke="#6e6e6e" stroke-width="0.3"/>
<text x="-9.70" y="58.10" font-size="3.8" fill="#111">75-80</text>
<rect x="-21.00" y="61.50" width="8.7" height="3.7" fill="#ec7014" stroke="#6e6e6e" stroke-width="0.3"/>
<text x="-9.70" y="64.55" font-size="3.8" fill="#111">80-85</text>
<rect x="-21.00" y="67.95" width="8.7" height="3.7" fill="#cc4c02" stroke="#6e6e6e" stroke-width="0.3"/>
<text x="-9.70" y="71.00" font-size="3.8" fill="#111">85-90</text>
<rect x="-21.00" y="74.40" width="8.7" height="3.7" fill="#993404" stroke="#6e6e6e" stroke-width="0.3"/>
<text x="-9.70" y="77.45" font-size="3.8" fill="#111">90-95</text>
<rect x="-21.00" y="80.85" width="8.7" height="3.7" fill="#662506" stroke="#6e6e6e" stroke-width="0.3"/>
<text x="-9.70" y="83.90" font-size="3.8" fill="#111">>95</text>
</g>
<g transform="translate(893.75,254.6) scale(1.0,1.0)">
<g mask="url(#ch)" stroke="#6e6e6e" stroke-width="0.32" stroke-linejoin="round">
<use href="#BE" fill="#aa3c03"/>
<use href="#GR" fill="#e1640e"/>
<use href="#VS" fill="#662506"/>
<use href="#VD" fill="#662506"/>
<use href="#FR" fill="#aa3c03"/>
<use href="#NE" fill="#662506"/>
<use href="#JU" fill="#662506"/>
<use href="#SO" fill="#662506"/>
<use href="#BL" fill="#662506"/>
<use href="#BS" fill="#662506"/>
<use href="#SOx" fill="#662506"/>
<use href="#AG" fill="#e1640e"/>
<use href="#LU" fill="#662506"/>
<use href="#ZH" fill="#662506"/>
<use href="#SG" fill="#662506"/>
<use href="#TG" fill="#ffffe5"/>
<use href="#SH" fill="#662506"/>
<use href="#AR" fill="#fe9929"/>
<use href="#AI" fill="#ffffff"/>
<use href="#TI" fill="#aa3c03"/>
<use href="#UR" fill="#662506"/>
<use href="#GL" fill="#662506"/>
<use href="#SZ" fill="#662506"/>
<use href="#ZG" fill="#662506"/>
<use href="#OW" fill="#fff0ae"/>
<use href="#NW" fill="#fe9929"/>
<use href="#GE" fill="#e1640e"/>
<use href="#ln"/>
</g>
<use href="#ol" fill="none" stroke="#6e6e6e" stroke-width="0.32"/>
<path d="M245.6,3.7L250.3,17.7L245.6,15L240.9,17.7Z" fill="#000"/>
<text x="245.6" y="1.0" font-size="4.7" text-anchor="middle" fill="#000">N</text>
<path d="M182.3,180.3V182.9H243.10000000000002V180.3M189.90,182.9v-1.5M197.50,182.9v-2.6M205.10,182.9v-1.5M212.70,182.9v-2.6M220.30,182.9v-1.5M227.90,182.9v-1.5M235.50,182.9v-1.5" fill="none" stroke="#000" stroke-width="0.5"/>
<text x="182.30" y="178.3" font-size="3.6" text-anchor="middle" fill="#111">0</text>
<text x="197.50" y="178.3" font-size="3.6" text-anchor="middle" fill="#111">20</text>
<text x="212.70" y="178.3" font-size="3.6" text-anchor="middle" fill="#111">40</text>
<text x="241.3" y="178.3" font-size="3.6" fill="#111">80 Kilometers</text>
<text x="5.00" y="4.4" font-size="7.4" font-weight="bold" text-anchor="middle" textLength="24.2" lengthAdjust="spacingAndGlyphs" fill="#111">Legend</text>
<text x="-21.00" y="17.0" font-size="6" textLength="41.8" lengthAdjust="spacingAndGlyphs" fill="#000" stroke="#000" stroke-width="0.12">Robson group 6</text>
<text x="-21.00" y="25.6" font-size="6" textLength="42" lengthAdjust="spacingAndGlyphs" fill="#000" stroke="#000" stroke-width="0.12">CS rate (%), 2021</text>
<rect x="-21.00" y="29.25" width="8.7" height="3.7" fill="#ffffe5" stroke="#6e6e6e" stroke-width="0.3"/>
<text x="-9.70" y="32.30" font-size="3.8" fill="#111"><85</text>
<rect x="-21.00" y="35.70" width="8.7" height="3.7" fill="#fff0ae" stroke="#6e6e6e" stroke-width="0.3"/>
<text x="-9.70" y="38.75" font-size="3.8" fill="#111">85-87.5</text>
<rect x="-21.00" y="42.15" width="8.7" height="3.7" fill="#fece65" stroke="#6e6e6e" stroke-width="0.3"/>
<text x="-9.70" y="45.20" font-size="3.8" fill="#111">87.5-90</text>
<rect x="-21.00" y="48.60" width="8.7" height="3.7" fill="#fe9929" stroke="#6e6e6e" stroke-width="0.3"/>
<text x="-9.70" y="51.65" font-size="3.8" fill="#111">90-92.5</text>
<rect x="-21.00" y="55.05" width="8.7" height="3.7" fill="#e1640e" stroke="#6e6e6e" stroke-width="0.3"/>
<text x="-9.70" y="58.10" font-size="3.8" fill="#111">92.5-95</text>
<rect x="-21.00" y="61.50" width="8.7" height="3.7" fill="#aa3c03" stroke="#6e6e6e" stroke-width="0.3"/>
<text x="-9.70" y="64.55" font-size="3.8" fill="#111">95-97.5</text>
<rect x="-21.00" y="67.95" width="8.7" height="3.7" fill="#662506" stroke="#6e6e6e" stroke-width="0.3"/>
<text x="-9.70" y="71.00" font-size="3.8" fill="#111">>97.5</text>
</g>
<g transform="translate(41.1,491.5) scale(0.94,0.94)">
<g mask="url(#ch)" stroke="#6e6e6e" stroke-width="0.32" stroke-linejoin="round">
<use href="#BE" fill="#fece65"/>
<use href="#GR" fill="#aa3c03"/>
<use href="#VS" fill="#662506"/>
<use href="#VD" fill="#fe9929"/>
<use href="#FR" fill="#662506"/>
<use href="#NE" fill="#662506"/>
<use href="#JU" fill="#fe9929"/>
<use href="#SO" fill="#e1640e"/>
<use href="#BL" fill="#ffffe5"/>
<use href="#BS" fill="#ffffe5"/>
<use href="#SOx" fill="#e1640e"/>
<use href="#AG" fill="#fece65"/>
<use href="#LU" fill="#aa3c03"/>
<use href="#ZH" fill="#e1640e"/>
<use href="#SG" fill="#aa3c03"/>
<use href="#TG" fill="#ffffe5"/>
<use href="#SH" fill="#662506"/>
<use href="#AR" fill="#662506"/>
<use href="#AI" fill="#ffffff"/>
<use href="#TI" fill="#aa3c03"/>
<use href="#UR" fill="#662506"/>
<use href="#GL" fill="#662506"/>
<use href="#SZ" fill="#662506"/>
<use href="#ZG" fill="#662506"/>
<use href="#OW" fill="#662506"/>
<use href="#NW" fill="#662506"/>
<use href="#GE" fill="#fff0ae"/>
<use href="#ln"/>
</g>
<use href="#ol" fill="none" stroke="#6e6e6e" stroke-width="0.32"/>
<path d="M245.6,3.7L250.3,17.7L245.6,15L240.9,17.7Z" fill="#000"/>
<text x="245.6" y="1.0" font-size="4.7" text-anchor="middle" fill="#000">N</text>
<path d="M182.3,180.3V182.9H243.10000000000002V180.3M189.90,182.9v-1.5M197.50,182.9v-2.6M205.10,182.9v-1.5M212.70,182.9v-2.6M220.30,182.9v-1.5M227.90,182.9v-1.5M235.50,182.9v-1.5" fill="none" stroke="#000" stroke-width="0.5"/>
<text x="182.30" y="178.3" font-size="3.6" text-anchor="middle" fill="#111">0</text>
<text x="197.50" y="178.3" font-size="3.6" text-anchor="middle" fill="#111">20</text>
<text x="212.70" y="178.3" font-size="3.6" text-anchor="middle" fill="#111">40</text>
<text x="241.3" y="178.3" font-size="3.6" fill="#111">80 Kilometers</text>
<text x="5.00" y="4.4" font-size="7.4" font-weight="bold" text-anchor="middle" textLength="24.2" lengthAdjust="spacingAndGlyphs" fill="#111">Legend</text>
<text x="-21.00" y="17.0" font-size="6" textLength="41.8" lengthAdjust="spacingAndGlyphs" fill="#000" stroke="#000" stroke-width="0.12">Robson group 7</text>
<text x="-21.00" y="25.6" font-size="6" textLength="42" lengthAdjust="spacingAndGlyphs" fill="#000" stroke="#000" stroke-width="0.12">CS rate (%), 2021</text>
<rect x="-21.00" y="29.25" width="8.7" height="3.7" fill="#ffffe5" stroke="#6e6e6e" stroke-width="0.3"/>
<text x="-9.70" y="32.30" font-size="3.8" fill="#111"><85</text>
<rect x="-21.00" y="35.70" width="8.7" height="3.7" fill="#fff0ae" stroke="#6e6e6e" stroke-width="0.3"/>
<text x="-9.70" y="38.75" font-size="3.8" fill="#111">85-87.5</text>
<rect x="-21.00" y="42.15" width="8.7" height="3.7" fill="#fece65" stroke="#6e6e6e" stroke-width="0.3"/>
<text x="-9.70" y="45.20" font-size="3.8" fill="#111">87.5-90</text>
<rect x="-21.00" y="48.60" width="8.7" height="3.7" fill="#fe9929" stroke="#6e6e6e" stroke-width="0.3"/>
<text x="-9.70" y="51.65" font-size="3.8" fill="#111">90-92.5</text>
<rect x="-21.00" y="55.05" width="8.7" height="3.7" fill="#e1640e" stroke="#6e6e6e" stroke-width="0.3"/>
<text x="-9.70" y="58.10" font-size="3.8" fill="#111">92.5-95</text>
<rect x="-21.00" y="61.50" width="8.7" height="3.7" fill="#aa3c03" stroke="#6e6e6e" stroke-width="0.3"/>
<text x="-9.70" y="64.55" font-size="3.8" fill="#111">95-97.5</text>
<rect x="-21.00" y="67.95" width="8.7" height="3.7" fill="#662506" stroke="#6e6e6e" stroke-width="0.3"/>
<text x="-9.70" y="71.00" font-size="3.8" fill="#111">>97.5</text>
</g>
<g transform="translate(341.1,491.5) scale(0.94,0.94)">
<g mask="url(#ch)" stroke="#6e6e6e" stroke-width="0.32" stroke-linejoin="round">
<use href="#BE" fill="#a03704"/>
<use href="#GR" fill="#d55607"/>
<use href="#VS" fill="#d55607"/>
<use href="#VD" fill="#d55607"/>
<use href="#FR" fill="#f4821d"/>
<use href="#NE" fill="#d55607"/>
<use href="#JU" fill="#feb23f"/>
<use href="#SO" fill="#d55607"/>
<use href="#BL" fill="#d55607"/>
<use href="#BS" fill="#d55607"/>
<use href="#SOx" fill="#d55607"/>
<use href="#AG" fill="#d55607"/>
<use href="#LU" fill="#d55607"/>
<use href="#ZH" fill="#a03704"/>
<use href="#SG" fill="#d55607"/>
<use href="#TG" fill="#f4821d"/>
<use href="#SH" fill="#662506"/>
<use href="#AR" fill="#fff4b6"/>
<use href="#AI" fill="#ffffff"/>
<use href="#TI" fill="#a03704"/>
<use href="#UR" fill="#662506"/>
<use href="#GL" fill="#662506"/>
<use href="#SZ" fill="#d55607"/>
<use href="#ZG" fill="#a03704"/>
<use href="#OW" fill="#feda7e"/>
<use href="#NW" fill="#ffffe5"/>
<use href="#GE" fill="#d55607"/>
<use href="#ln"/>
</g>
<use href="#ol" fill="none" stroke="#6e6e6e" stroke-width="0.32"/>
<path d="M245.6,3.7L250.3,17.7L245.6,15L240.9,17.7Z" fill="#000"/>
<text x="245.6" y="1.0" font-size="4.7" text-anchor="middle" fill="#000">N</text>
<path d="M182.3,180.3V182.9H243.10000000000002V180.3M189.90,182.9v-1.5M197.50,182.9v-2.6M205.10,182.9v-1.5M212.70,182.9v-2.6M220.30,182.9v-1.5M227.90,182.9v-1.5M235.50,182.9v-1.5" fill="none" stroke="#000" stroke-width="0.5"/>
<text x="182.30" y="178.3" font-size="3.6" text-anchor="middle" fill="#111">0</text>
<text x="197.50" y="178.3" font-size="3.6" text-anchor="middle" fill="#111">20</text>
<text x="212.70" y="178.3" font-size="3.6" text-anchor="middle" fill="#111">40</text>
<text x="241.3" y="178.3" font-size="3.6" fill="#111">80 Kilometers</text>
<text x="5.00" y="4.4" font-size="7.4" font-weight="bold" text-anchor="middle" textLength="24.2" lengthAdjust="spacingAndGlyphs" fill="#111">Legend</text>
<text x="-21.00" y="17.0" font-size="6" textLength="41.8" lengthAdjust="spacingAndGlyphs" fill="#000" stroke="#000" stroke-width="0.12">Robson group 8</text>
<text x="-21.00" y="25.6" font-size="6" textLength="42" lengthAdjust="spacingAndGlyphs" fill="#000" stroke="#000" stroke-width="0.12">CS rate (%), 2021</text>
<rect x="-21.00" y="29.25" width="8.7" height="3.7" fill="#ffffe5" stroke="#6e6e6e" stroke-width="0.3"/>
<text x="-9.70" y="32.30" font-size="3.8" fill="#111"><30</text>
<rect x="-21.00" y="35.70" width="8.7" height="3.7" fill="#fff4b6" stroke="#6e6e6e" stroke-width="0.3"/>
<text x="-9.70" y="38.75" font-size="3.8" fill="#111">30-40</text>
<rect x="-21.00" y="42.15" width="8.7" height="3.7" fill="#feda7e" stroke="#6e6e6e" stroke-width="0.3"/>
<text x="-9.70" y="45.20" font-size="3.8" fill="#111">40-50</text>
<rect x="-21.00" y="48.60" width="8.7" height="3.7" fill="#feb23f" stroke="#6e6e6e" stroke-width="0.3"/>
<text x="-9.70" y="51.65" font-size="3.8" fill="#111">50-60</text>
<rect x="-21.00" y="55.05" width="8.7" height="3.7" fill="#f4821d" stroke="#6e6e6e" stroke-width="0.3"/>
<text x="-9.70" y="58.10" font-size="3.8" fill="#111">60-70</text>
<rect x="-21.00" y="61.50" width="8.7" height="3.7" fill="#d55607" stroke="#6e6e6e" stroke-width="0.3"/>
<text x="-9.70" y="64.55" font-size="3.8" fill="#111">70-80</text>
<rect x="-21.00" y="67.95" width="8.7" height="3.7" fill="#a03704" stroke="#6e6e6e" stroke-width="0.3"/>
<text x="-9.70" y="71.00" font-size="3.8" fill="#111">80-90</text>
<rect x="-21.00" y="74.40" width="8.7" height="3.7" fill="#662506" stroke="#6e6e6e" stroke-width="0.3"/>
<text x="-9.70" y="77.45" font-size="3.8" fill="#111">>90</text>
</g>
<g transform="translate(628.5,491.5) scale(0.94,0.94)">
<g mask="url(#ch)" stroke="#6e6e6e" stroke-width="0.32" stroke-linejoin="round">
<use href="#BE" fill="#d55607"/>
<use href="#GR" fill="#a03704"/>
<use href="#VS" fill="#fff4b6"/>
<use href="#VD" fill="#feb23f"/>
<use href="#FR" fill="#d55607"/>
<use href="#NE" fill="#feb23f"/>
<use href="#JU" fill="#a03704"/>
<use href="#SO" fill="#a03704"/>
<use href="#BL" fill="#a03704"/>
<use href="#BS" fill="#a03704"/>
<use href="#SOx" fill="#a03704"/>
<use href="#AG" fill="#f4821d"/>
<use href="#LU" fill="#feda7e"/>
<use href="#ZH" fill="#d55607"/>
<use href="#SG" fill="#d55607"/>
<use href="#TG" fill="#ffffe5"/>
<use href="#SH" fill="#a03704"/>
<use href="#AR" fill="#f4821d"/>
<use href="#AI" fill="#ffffff"/>
<use href="#TI" fill="#d55607"/>
<use href="#UR" fill="#feb23f"/>
<use href="#GL" fill="#feb23f"/>
<use href="#SZ" fill="#a03704"/>
<use href="#ZG" fill="#feda7e"/>
<use href="#OW" fill="#662506"/>
<use href="#NW" fill="#662506"/>
<use href="#GE" fill="#feda7e"/>
<use href="#ln"/>
</g>
<use href="#ol" fill="none" stroke="#6e6e6e" stroke-width="0.32"/>
<path d="M245.6,3.7L250.3,17.7L245.6,15L240.9,17.7Z" fill="#000"/>
<text x="245.6" y="1.0" font-size="4.7" text-anchor="middle" fill="#000">N</text>
<path d="M182.3,180.3V182.9H243.10000000000002V180.3M189.90,182.9v-1.5M197.50,182.9v-2.6M205.10,182.9v-1.5M212.70,182.9v-2.6M220.30,182.9v-1.5M227.90,182.9v-1.5M235.50,182.9v-1.5" fill="none" stroke="#000" stroke-width="0.5"/>
<text x="182.30" y="178.3" font-size="3.6" text-anchor="middle" fill="#111">0</text>
<text x="197.50" y="178.3" font-size="3.6" text-anchor="middle" fill="#111">20</text>
<text x="212.70" y="178.3" font-size="3.6" text-anchor="middle" fill="#111">40</text>
<text x="241.3" y="178.3" font-size="3.6" fill="#111">80 Kilometers</text>
<text x="5.00" y="4.4" font-size="7.4" font-weight="bold" text-anchor="middle" textLength="24.2" lengthAdjust="spacingAndGlyphs" fill="#111">Legend</text>
<text x="-21.00" y="17.0" font-size="6" textLength="41.8" lengthAdjust="spacingAndGlyphs" fill="#000" stroke="#000" stroke-width="0.12">Robson group 9</text>
<text x="-21.00" y="25.6" font-size="6" textLength="42" lengthAdjust="spacingAndGlyphs" fill="#000" stroke="#000" stroke-width="0.12">CS rate (%), 2021</text>
<rect x="-21.00" y="29.25" width="8.7" height="3.7" fill="#ffffe5" stroke="#6e6e6e" stroke-width="0.3"/>
<text x="-9.70" y="32.30" font-size="3.8" fill="#111"><30</text>
<rect x="-21.00" y="35.70" width="8.7" height="3.7" fill="#fff4b6" stroke="#6e6e6e" stroke-width="0.3"/>
<text x="-9.70" y="38.75" font-size="3.8" fill="#111">30-40</text>
<rect x="-21.00" y="42.15" width="8.7" height="3.7" fill="#feda7e" stroke="#6e6e6e" stroke-width="0.3"/>
<text x="-9.70" y="45.20" font-size="3.8" fill="#111">40-50</text>
<rect x="-21.00" y="48.60" width="8.7" height="3.7" fill="#feb23f" stroke="#6e6e6e" stroke-width="0.3"/>
<text x="-9.70" y="51.65" font-size="3.8" fill="#111">50-60</text>
<rect x="-21.00" y="55.05" width="8.7" height="3.7" fill="#f4821d" stroke="#6e6e6e" stroke-width="0.3"/>
<text x="-9.70" y="58.10" font-size="3.8" fill="#111">60-70</text>
<rect x="-21.00" y="61.50" width="8.7" height="3.7" fill="#d55607" stroke="#6e6e6e" stroke-width="0.3"/>
<text x="-9.70" y="64.55" font-size="3.8" fill="#111">70-80</text>
<rect x="-21.00" y="67.95" width="8.7" height="3.7" fill="#a03704" stroke="#6e6e6e" stroke-width="0.3"/>
<text x="-9.70" y="71.00" font-size="3.8" fill="#111">80-90</text>
<rect x="-21.00" y="74.40" width="8.7" height="3.7" fill="#662506" stroke="#6e6e6e" stroke-width="0.3"/>
<text x="-9.70" y="77.45" font-size="3.8" fill="#111">>90</text>
</g>
<g transform="translate(940.6,472.8) scale(0.9413,1.028)">
<g mask="url(#ch)" stroke="#6e6e6e" stroke-width="0.32" stroke-linejoin="round">
<use href="#BE" fill="#d55607"/>
<use href="#GR" fill="#f4821d"/>
<use href="#VS" fill="#feb23f"/>
<use href="#VD" fill="#d55607"/>
<use href="#FR" fill="#f4821d"/>
<use href="#NE" fill="#d55607"/>
<use href="#JU" fill="#ffffe5"/>
<use href="#SO" fill="#d55607"/>
<use href="#BL" fill="#ffffe5"/>
<use href="#BS" fill="#a03704"/>
<use href="#SOx" fill="#d55607"/>
<use href="#AG" fill="#f4821d"/>
<use href="#LU" fill="#f4821d"/>
<use href="#ZH" fill="#662506"/>
<use href="#SG" fill="#f4821d"/>
<use href="#TG" fill="#feda7e"/>
<use href="#SH" fill="#d55607"/>
<use href="#AR" fill="#feda7e"/>
<use href="#AI" fill="#ffffff"/>
<use href="#TI" fill="#f4821d"/>
<use href="#UR" fill="#d55607"/>
<use href="#GL" fill="#fff4b6"/>
<use href="#SZ" fill="#feb23f"/>
<use href="#ZG" fill="#d55607"/>
<use href="#OW" fill="#fff4b6"/>
<use href="#NW" fill="#a03704"/>
<use href="#GE" fill="#d55607"/>
<use href="#ln"/>
</g>
<use href="#ol" fill="none" stroke="#6e6e6e" stroke-width="0.32"/>
<path d="M245.6,3.7L250.3,17.7L245.6,15L240.9,17.7Z" fill="#000"/>
<text x="245.6" y="1.0" font-size="4.7" text-anchor="middle" fill="#000">N</text>
<path d="M182.3,181.8V184.4H243.10000000000002V181.8M189.90,184.4v-1.5M197.50,184.4v-2.6M205.10,184.4v-1.5M212.70,184.4v-2.6M220.30,184.4v-1.5M227.90,184.4v-1.5M235.50,184.4v-1.5" fill="none" stroke="#000" stroke-width="0.5"/>
<text x="182.30" y="179.8" font-size="3.6" text-anchor="middle" fill="#111">0</text>
<text x="197.50" y="179.8" font-size="3.6" text-anchor="middle" fill="#111">20</text>
<text x="212.70" y="179.8" font-size="3.6" text-anchor="middle" fill="#111">40</text>
<text x="241.3" y="179.8" font-size="3.6" fill="#111">80 Kilometers</text>
<text x="5.00" y="3.1000000000000005" font-size="7.4" font-weight="bold" text-anchor="middle" textLength="24.2" lengthAdjust="spacingAndGlyphs" fill="#111">Legend</text>
<text x="-21.00" y="15.7" font-size="6" textLength="45.7" lengthAdjust="spacingAndGlyphs" fill="#000" stroke="#000" stroke-width="0.12">Robson group 10</text>
<text x="-21.00" y="24.3" font-size="6" textLength="42" lengthAdjust="spacingAndGlyphs" fill="#000" stroke="#000" stroke-width="0.12">CS rate (%), 2021</text>
<rect x="-21.00" y="29.25" width="8.7" height="3.7" fill="#ffffe5" stroke="#6e6e6e" stroke-width="0.3"/>
<text x="-9.70" y="32.30" font-size="3.8" fill="#111"><25</text>
<rect x="-21.00" y="35.70" width="8.7" height="3.7" fill="#fff4b6" stroke="#6e6e6e" stroke-width="0.3"/>
<text x="-9.70" y="38.75" font-size="3.8" fill="#111">25-30</text>
<rect x="-21.00" y="42.15" width="8.7" height="3.7" fill="#feda7e" stroke="#6e6e6e" stroke-width="0.3"/>
<text x="-9.70" y="45.20" font-size="3.8" fill="#111">30-35</text>
<rect x="-21.00" y="48.60" width="8.7" height="3.7" fill="#feb23f" stroke="#6e6e6e" stroke-width="0.3"/>
<text x="-9.70" y="51.65" font-size="3.8" fill="#111">35-40</text>
<rect x="-21.00" y="55.05" width="8.7" height="3.7" fill="#f4821d" stroke="#6e6e6e" stroke-width="0.3"/>
<text x="-9.70" y="58.10" font-size="3.8" fill="#111">40-45</text>
<rect x="-21.00" y="61.50" width="8.7" height="3.7" fill="#d55607" stroke="#6e6e6e" stroke-width="0.3"/>
<text x="-9.70" y="64.55" font-size="3.8" fill="#111">45-50</text>
<rect x="-21.00" y="67.95" width="8.7" height="3.7" fill="#a03704" stroke="#6e6e6e" stroke-width="0.3"/>
<text x="-9.70" y="71.00" font-size="3.8" fill="#111">50-55</text>
<rect x="-21.00" y="74.40" width="8.7" height="3.7" fill="#662506" stroke="#6e6e6e" stroke-width="0.3"/>
<text x="-9.70" y="77.45" font-size="3.8" fill="#111">>55</text>
</g>

</svg></body></html>
